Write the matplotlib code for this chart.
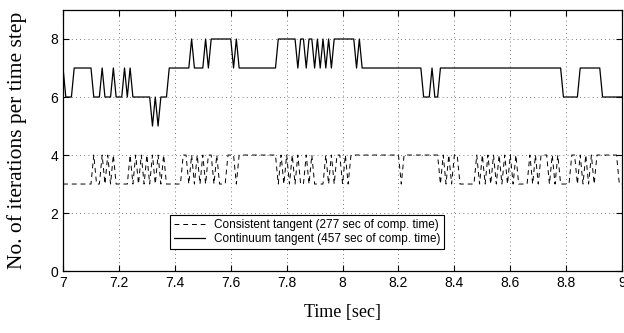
import numpy as np
import matplotlib
matplotlib.use("Agg")
import matplotlib.pyplot as plt

continuum_runs = [(7, 1), (6, 3), (7, 7), (6, 3), (7, 1), (6, 3), (7, 1), (6, 3), (7, 1), (6, 1),
                  (7, 1), (6, 7), (5, 1), (6, 1), (5, 1), (6, 3), (7, 8), (8, 1), (7, 4), (8, 1),
                  (7, 1), (8, 8), (7, 1), (8, 1), (7, 14), (8, 7), (7, 1), (8, 2), (7, 1), (8, 2),
                  (7, 1), (8, 1), (7, 1), (8, 1), (7, 1), (8, 1), (7, 1), (8, 8), (7, 1), (8, 1),
                  (7, 22), (6, 3), (7, 1), (6, 2), (7, 44), (6, 6), (7, 8), (6, 8)]

consistent_runs = [(3, 11), (4, 1), (3, 2), (4, 1), (3, 1), (4, 1), (3, 1), (4, 1), (3, 5),
                   (4, 1), (3, 1), (4, 1), (3, 1), (4, 1), (3, 1), (4, 1), (3, 1), (4, 1), (3, 1),
                   (4, 1), (3, 1), (4, 1), (3, 6), (4, 2), (3, 1), (4, 1), (3, 1), (4, 1), (3, 1),
                   (4, 1), (3, 1), (4, 2), (3, 1), (4, 1), (3, 3), (4, 3), (3, 1), (4, 14),
                   (3, 1), (4, 1), (3, 1), (4, 1), (3, 1), (4, 1), (3, 1), (4, 1), (3, 2), (4, 1),
                   (3, 1), (4, 1), (3, 4), (4, 1), (3, 1), (4, 1), (3, 1), (4, 2), (3, 1), (4, 1),
                   (3, 1), (4, 18), (3, 1), (4, 13), (3, 1), (4, 1), (3, 1), (4, 1), (3, 1),
                   (4, 2), (3, 6), (4, 1), (3, 1), (4, 1), (3, 1), (4, 1), (3, 1), (4, 1), (3, 1),
                   (4, 1), (3, 1), (4, 1), (3, 1), (4, 1), (3, 1), (4, 1), (3, 4), (4, 1), (3, 1),
                   (4, 1), (3, 1), (4, 3), (3, 1), (4, 1), (3, 1), (4, 1), (3, 4), (4, 2), (3, 1),
                   (4, 1), (3, 1), (4, 1), (3, 1), (4, 1), (3, 1), (4, 8), (3, 2)]

t_start, dt = 7.0, 0.01
x_ticks = [7, 7.2, 7.4, 7.6, 7.8, 8, 8.2, 8.4, 8.6, 8.8, 9]
x_labels = ['7', '7.2', '7.4', '7.6', '7.8', '8', '8.2', '8.4', '8.6', '8.8', '9']
y_ticks = [0, 2, 4, 6, 8]


def expand(runs):
    levels = [r[0] for r in runs]
    counts = [r[1] for r in runs]
    vals = np.repeat(levels, counts)
    return t_start + dt * np.arange(len(vals)), vals


t_cont, continuum = expand(continuum_runs)
t_cons, consistent = expand(consistent_runs)

plt.rcParams['font.family'] = ['Liberation Sans', 'DejaVu Sans']

fig = plt.figure(figsize=(6.24, 3.33), dpi=100)
ax = fig.add_axes([0.101, 0.186, 0.896, 0.784])

ax.plot(t_cons, consistent, color='black', lw=0.7, linestyle=(0, (5, 4)),
        label='Consistent tangent (277 sec of comp. time)')
ax.plot(t_cont, continuum, color='black', lw=0.9,
        label='Continuum tangent (457 sec of comp. time)')

ax.set_xlim(7, 9)
ax.set_ylim(0, 9)
ax.set_xticks(x_ticks)
ax.set_xticklabels(x_labels)
ax.set_yticks(y_ticks)
ax.tick_params(direction='in', top=True, right=True, labelsize=10, length=4, width=0.8)
ax.grid(True, linestyle=(0, (1, 4)), color='black', lw=0.6, alpha=0.7)
for s in ax.spines.values():
    s.set_linewidth(0.9)

ax.set_xlabel('Time [sec]', family='Liberation Serif', fontsize=13, labelpad=10)
ax.set_ylabel('No. of iterations per time step', family='Liberation Serif', fontsize=15.5,
              labelpad=17)

leg = ax.legend(loc='center', bbox_to_anchor=(0.437, 0.149), fontsize=8.5,
                fancybox=False, framealpha=1, edgecolor='black', handlelength=2.6,
                borderpad=0.3, labelspacing=0.2, handletextpad=0.8)
leg.get_frame().set_linewidth(0.8)

fig.savefig('out.png', dpi=100)
